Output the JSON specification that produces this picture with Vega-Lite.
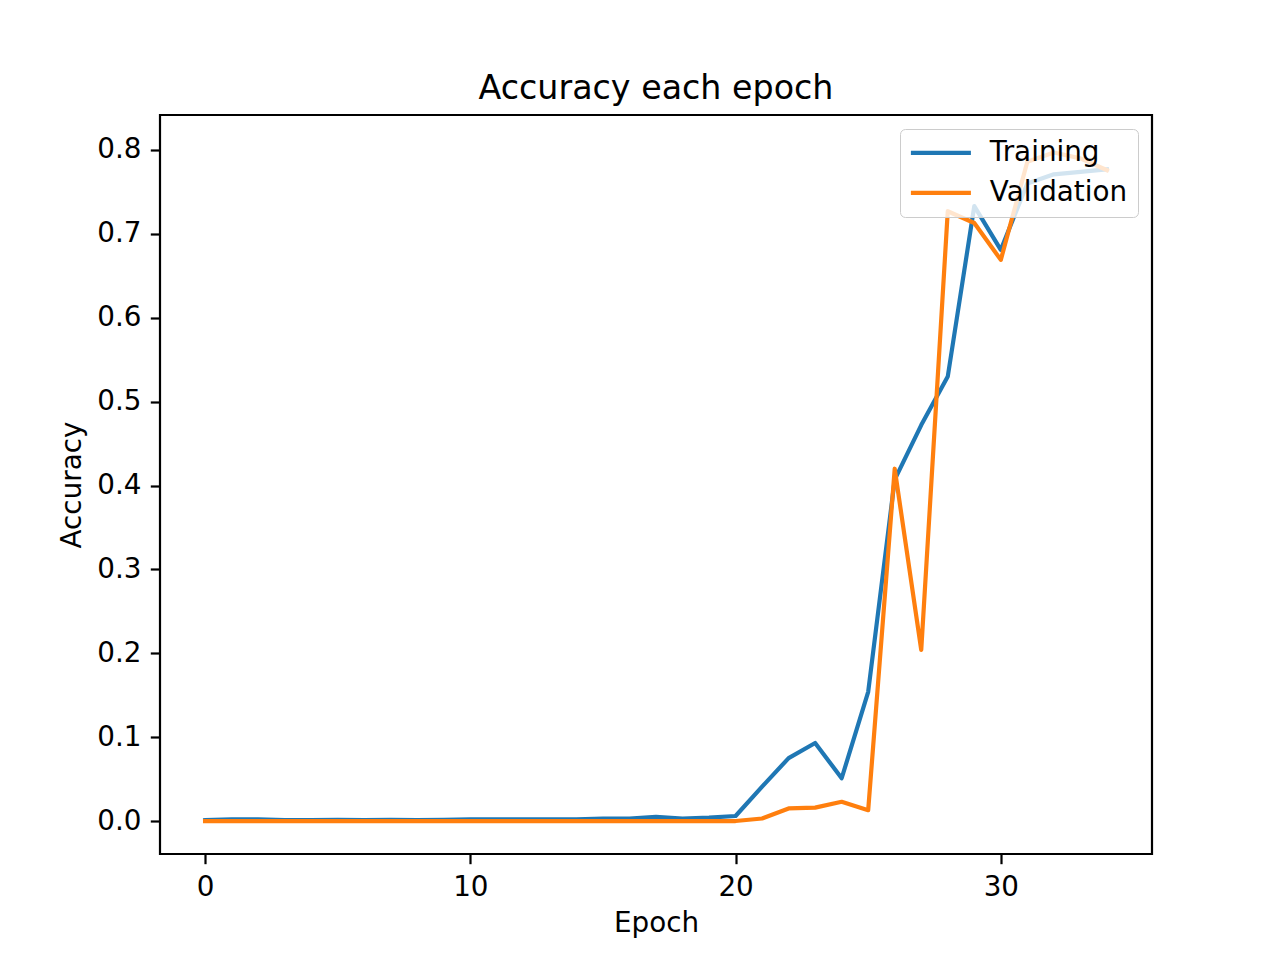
{
  "$schema": "https://vega.github.io/schema/vega-lite/v6.json",
  "autosize": {"type": "none"},
  "width": 992,
  "height": 739,
  "padding": {"left": 160, "top": 115, "right": 128, "bottom": 106},
  "background": "white",
  "config": {
    "font": "DejaVu Sans",
    "view": {"stroke": "black", "strokeWidth": 2.2},
    "legend": {
      "fillColor": "rgba(255,255,255,0.8)",
      "strokeColor": "#cccccc",
      "cornerRadius": 5
    },
    "axis": {
      "domain": false,
      "grid": false,
      "tickColor": "black",
      "tickWidth": 2.2,
      "tickSize": 9.7,
      "labelFontSize": 27.8,
      "labelColor": "black",
      "labelPadding": 9.3,
      "labelFont": "DejaVu Sans",
      "titleFont": "DejaVu Sans",
      "titleFontSize": 27.8,
      "titleFontWeight": "normal",
      "titleColor": "black"
    }
  },
  "title": {
    "text": "Accuracy each epoch",
    "fontSize": 33.3,
    "font": "DejaVu Sans",
    "fontWeight": "normal",
    "color": "black",
    "anchor": "middle",
    "baseline": "alphabetic",
    "offset": -17
  },
  "data": {
    "values": [
      {"epoch": 0, "series": "Training", "accuracy": 0.001},
      {"epoch": 1, "series": "Training", "accuracy": 0.002},
      {"epoch": 2, "series": "Training", "accuracy": 0.002},
      {"epoch": 3, "series": "Training", "accuracy": 0.001},
      {"epoch": 4, "series": "Training", "accuracy": 0.001},
      {"epoch": 5, "series": "Training", "accuracy": 0.0015},
      {"epoch": 6, "series": "Training", "accuracy": 0.001},
      {"epoch": 7, "series": "Training", "accuracy": 0.0015},
      {"epoch": 8, "series": "Training", "accuracy": 0.001},
      {"epoch": 9, "series": "Training", "accuracy": 0.0015},
      {"epoch": 10, "series": "Training", "accuracy": 0.002},
      {"epoch": 11, "series": "Training", "accuracy": 0.002},
      {"epoch": 12, "series": "Training", "accuracy": 0.002},
      {"epoch": 13, "series": "Training", "accuracy": 0.002},
      {"epoch": 14, "series": "Training", "accuracy": 0.002},
      {"epoch": 15, "series": "Training", "accuracy": 0.003},
      {"epoch": 16, "series": "Training", "accuracy": 0.003},
      {"epoch": 17, "series": "Training", "accuracy": 0.005},
      {"epoch": 18, "series": "Training", "accuracy": 0.003},
      {"epoch": 19, "series": "Training", "accuracy": 0.004},
      {"epoch": 20, "series": "Training", "accuracy": 0.006},
      {"epoch": 21, "series": "Training", "accuracy": 0.041},
      {"epoch": 22, "series": "Training", "accuracy": 0.075},
      {"epoch": 23, "series": "Training", "accuracy": 0.093},
      {"epoch": 24, "series": "Training", "accuracy": 0.051},
      {"epoch": 25, "series": "Training", "accuracy": 0.154},
      {"epoch": 26, "series": "Training", "accuracy": 0.407},
      {"epoch": 27, "series": "Training", "accuracy": 0.472},
      {"epoch": 28, "series": "Training", "accuracy": 0.53},
      {"epoch": 29, "series": "Training", "accuracy": 0.733},
      {"epoch": 30, "series": "Training", "accuracy": 0.681},
      {"epoch": 31, "series": "Training", "accuracy": 0.76},
      {"epoch": 32, "series": "Training", "accuracy": 0.771},
      {"epoch": 33, "series": "Training", "accuracy": 0.774},
      {"epoch": 34, "series": "Training", "accuracy": 0.777},
      {"epoch": 0, "series": "Validation", "accuracy": 0.0},
      {"epoch": 1, "series": "Validation", "accuracy": 0.0},
      {"epoch": 2, "series": "Validation", "accuracy": 0.0},
      {"epoch": 3, "series": "Validation", "accuracy": 0.0},
      {"epoch": 4, "series": "Validation", "accuracy": 0.0},
      {"epoch": 5, "series": "Validation", "accuracy": 0.0},
      {"epoch": 6, "series": "Validation", "accuracy": 0.0},
      {"epoch": 7, "series": "Validation", "accuracy": 0.0},
      {"epoch": 8, "series": "Validation", "accuracy": 0.0},
      {"epoch": 9, "series": "Validation", "accuracy": 0.0},
      {"epoch": 10, "series": "Validation", "accuracy": 0.0},
      {"epoch": 11, "series": "Validation", "accuracy": 0.0},
      {"epoch": 12, "series": "Validation", "accuracy": 0.0},
      {"epoch": 13, "series": "Validation", "accuracy": 0.0},
      {"epoch": 14, "series": "Validation", "accuracy": 0.0},
      {"epoch": 15, "series": "Validation", "accuracy": 0.0},
      {"epoch": 16, "series": "Validation", "accuracy": 0.0},
      {"epoch": 17, "series": "Validation", "accuracy": 0.0},
      {"epoch": 18, "series": "Validation", "accuracy": 0.0},
      {"epoch": 19, "series": "Validation", "accuracy": 0.0},
      {"epoch": 20, "series": "Validation", "accuracy": 0.0},
      {"epoch": 21, "series": "Validation", "accuracy": 0.003},
      {"epoch": 22, "series": "Validation", "accuracy": 0.015},
      {"epoch": 23, "series": "Validation", "accuracy": 0.016},
      {"epoch": 24, "series": "Validation", "accuracy": 0.023},
      {"epoch": 25, "series": "Validation", "accuracy": 0.013},
      {"epoch": 26, "series": "Validation", "accuracy": 0.42},
      {"epoch": 27, "series": "Validation", "accuracy": 0.204},
      {"epoch": 28, "series": "Validation", "accuracy": 0.727},
      {"epoch": 29, "series": "Validation", "accuracy": 0.713},
      {"epoch": 30, "series": "Validation", "accuracy": 0.669},
      {"epoch": 31, "series": "Validation", "accuracy": 0.786},
      {"epoch": 32, "series": "Validation", "accuracy": 0.797},
      {"epoch": 33, "series": "Validation", "accuracy": 0.79},
      {"epoch": 34, "series": "Validation", "accuracy": 0.776}
    ]
  },
  "mark": {"type": "line", "strokeWidth": 4.2, "strokeJoin": "round", "strokeCap": "square", "clip": true},
  "encoding": {
    "x": {
      "field": "epoch",
      "type": "quantitative",
      "scale": {"domain": [-1.7, 35.7], "nice": false, "zero": false},
      "axis": {"title": "Epoch", "values": [0, 10, 20, 30], "format": "d", "titlePadding": 9}
    },
    "y": {
      "field": "accuracy",
      "type": "quantitative",
      "scale": {"domain": [-0.0393, 0.8417], "nice": false, "zero": false},
      "axis": {"title": "Accuracy", "values": [0, 0.1, 0.2, 0.3, 0.4, 0.5, 0.6, 0.7, 0.8], "format": ".1f", "titlePadding": 10}
    },
    "color": {
      "field": "series",
      "type": "nominal",
      "scale": {"domain": ["Training", "Validation"], "range": ["#1f77b4", "#ff7f0e"]},
      "legend": {
        "title": null,
        "orient": "top-right",
        "offset": 14,
        "symbolType": "M-3,0H3",
        "symbolSize": 400,
        "symbolStrokeWidth": 4.2,
        "symbolOffset": 17,
        "labelFontSize": 27.8,
        "labelFont": "DejaVu Sans",
        "labelColor": "black",
        "labelOffset": 35,
        "rowPadding": 11,
        "padding": 10
      }
    }
  }
}
